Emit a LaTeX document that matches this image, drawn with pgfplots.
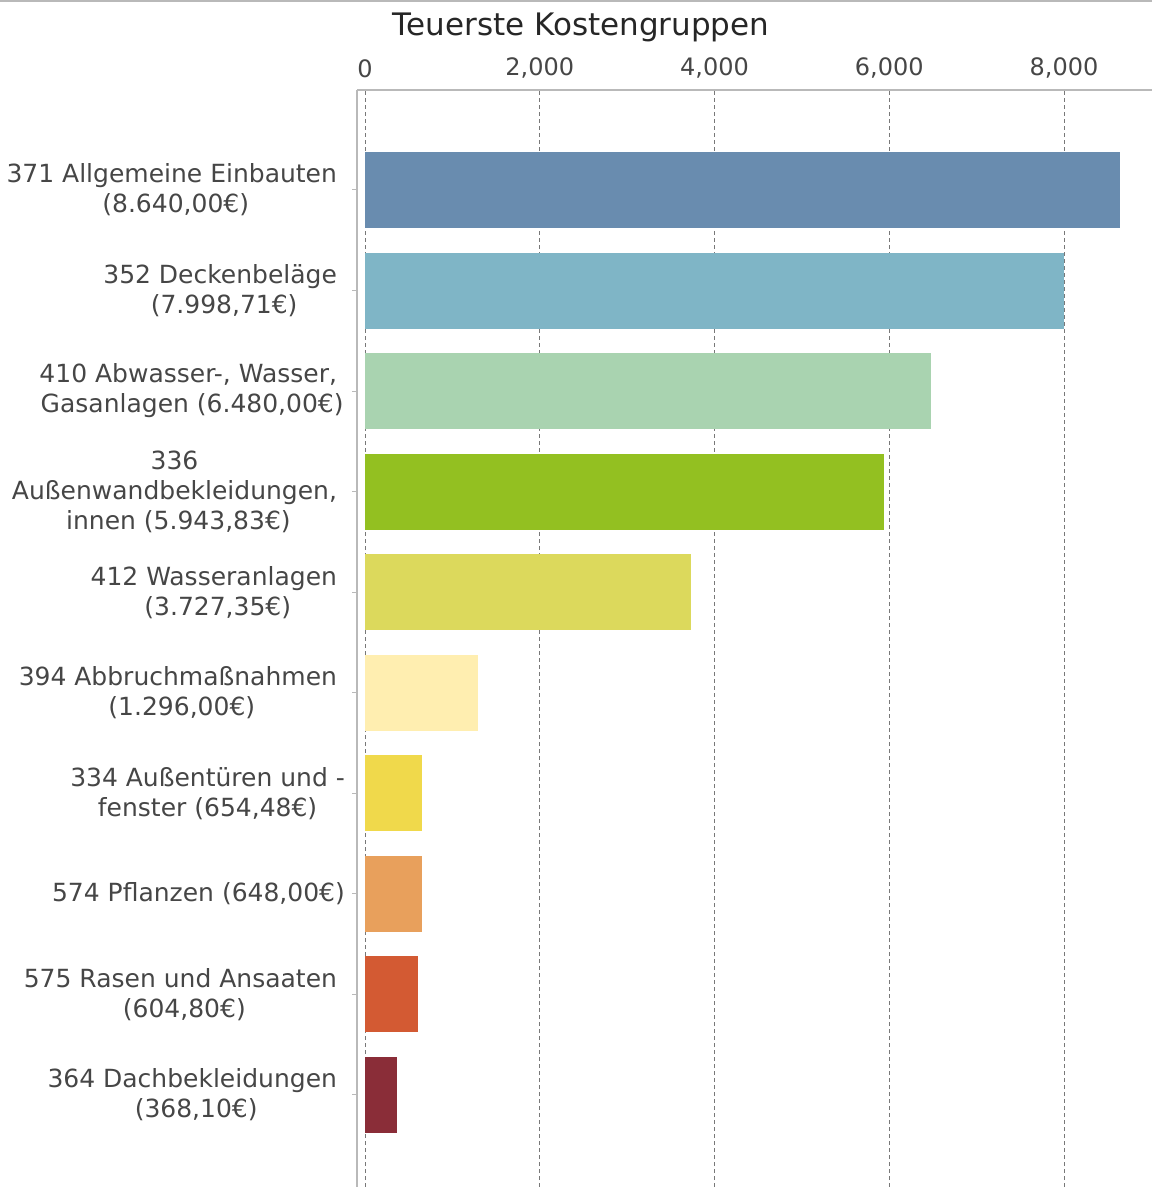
\documentclass[border=0pt]{standalone}
\usepackage{fontspec}
\setmainfont{DejaVu Sans}
\usepackage{pgfplots}
\pgfplotsset{compat=1.18}
\definecolor{c1}{RGB}{105,140,175}
\definecolor{c2}{RGB}{127,181,198}
\definecolor{c3}{RGB}{169,211,176}
\definecolor{c4}{RGB}{147,192,33}
\definecolor{c5}{RGB}{220,217,92}
\definecolor{c6}{RGB}{255,238,176}
\definecolor{c7}{RGB}{240,217,75}
\definecolor{c8}{RGB}{232,160,92}
\definecolor{c9}{RGB}{211,90,51}
\definecolor{c10}{RGB}{138,45,56}
\definecolor{txt}{RGB}{70,70,70}
\definecolor{gridc}{RGB}{120,120,120}
\definecolor{axc}{RGB}{185,185,185}
\begin{document}
\begin{tikzpicture}
\path[use as bounding box] (0,0) rectangle (576pt,-593.5pt);
\draw[axc, line width=1pt] (0,-0.4pt) -- (576pt,-0.4pt);
\begin{axis}[
  at={(178.5pt,-45pt)}, anchor=north west,
  scale only axis, width=397.5pt, height=548.5pt,
  xbar, bar shift=0pt, bar width=0.756,
  xmin=-91.6, xmax=9007,
  ymin=-0.915, ymax=9.994,
  axis x line*=top, axis y line*=left,
  axis line style={axc, line width=1pt},
  xtick={0,2000,4000,6000,8000},
  xticklabel pos=upper,
  xmajorgrids,
  major grid style={gridc, line width=0.5pt, dash pattern=on 2pt off 1.5pt},
  tick align=outside,
  major tick length=2.5pt,
  xtick style={draw=none},
  ytick style={draw=axc, line width=0.5pt},
  /pgf/number format/assume math mode=true,
  /pgf/number format/1000 sep={,},
  xticklabel style={font=\fontsize{12}{14}\selectfont, text=txt, yshift=0pt},
  ytick={0,1,2,3,4,5,6,7,8,9},
  yticklabels={
    {364 Dachbekleidungen\kern0.318em\\(368,10€)},
    {575 Rasen und Ansaaten\kern0.318em\\(604,80€)},
    {574 Pflanzen (648,00€)},
    {334 Außentüren und -\\fenster (654,48€)},
    {394 Abbruchmaßnahmen\kern0.318em\\(1.296,00€)},
    {412 Wasseranlagen\kern0.318em\\(3.727,35€)},
    {336\kern0.318em\\Außenwandbekleidungen,\kern0.318em\\innen (5.943,83€)},
    {410 Abwasser-, Wasser,\kern0.318em\\Gasanlagen (6.480,00€)},
    {352 Deckenbeläge\kern0.318em\\(7.998,71€)},
    {371 Allgemeine Einbauten\kern0.318em\\(8.640,00€)}
  },
  yticklabel style={font=\fontsize{12.5}{15}\selectfont, text=txt, align=center},
  title={Teuerste Kostengruppen},
  title style={at={(axis description cs:0.2818,1.062)}, anchor=center, yshift=-8.5pt, font=\fontsize{15.5}{18}\selectfont, text=black!85},
  clip=false,
]
\addplot[fill=c1, draw=none] coordinates {(8640,9)};
\addplot[fill=c2, draw=none] coordinates {(7998.71,8)};
\addplot[fill=c3, draw=none] coordinates {(6480,7)};
\addplot[fill=c4, draw=none] coordinates {(5943.83,6)};
\addplot[fill=c5, draw=none] coordinates {(3727.35,5)};
\addplot[fill=c6, draw=none] coordinates {(1296,4)};
\addplot[fill=c7, draw=none] coordinates {(654.48,3)};
\addplot[fill=c8, draw=none] coordinates {(648,2)};
\addplot[fill=c9, draw=none] coordinates {(604.8,1)};
\addplot[fill=c10, draw=none] coordinates {(368.1,0)};
\end{axis}
\end{tikzpicture}
\end{document}
